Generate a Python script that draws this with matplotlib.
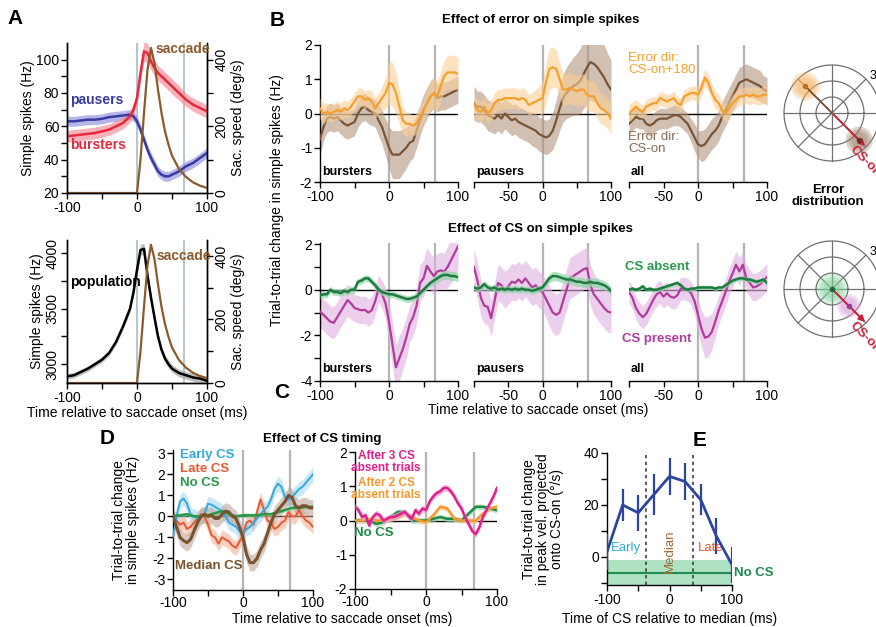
import numpy as np
import matplotlib
matplotlib.use('Agg')
import matplotlib.pyplot as plt
from matplotlib.patches import Circle

plt.rcParams['font.family'] = ['Liberation Sans', 'DejaVu Sans']
plt.rcParams['font.size'] = 10
plt.rcParams['axes.unicode_minus'] = False
plt.rcParams['axes.linewidth'] = 1.0

# ---------------- data ----------------
# panel A (firing rates, Hz) and saccade speed (deg/s)
t_a = [-100, -90, -80, -70, -60, -50, -40, -30, -20, -10, -5, 0, 5, 10, 15, 20, 25, 30, 35, 40, 45, 50, 60, 70, 80, 90, 100]
pausers = [63, 63, 63.5, 64, 64, 64.5, 65.5, 66, 66.5, 67, 66, 63, 58, 52, 46, 41, 37, 33, 31, 30, 30, 31, 33, 36, 38, 41, 44]
bursters = [54, 54.5, 55, 55.5, 56, 57, 58, 60, 62, 66, 70, 77, 92, 105, 104, 99, 95, 92, 90, 88, 86, 84, 80, 76, 73, 71, 69]
population = [2890, 2900, 2930, 2960, 3000, 3040, 3100, 3200, 3340, 3500, 3650, 3850, 4030, 4040, 3800, 3600, 3420, 3250, 3130, 3050, 3000, 2960, 2920, 2900, 2880, 2870, 2850]
t_sac = [-100, -5, 0, 5, 10, 15, 20, 25, 30, 35, 40, 45, 50, 60, 70, 80, 90, 100]
sac_speed = [0, 0, 0, 100, 240, 370, 435, 390, 310, 240, 185, 145, 112, 72, 48, 32, 22, 15]

# panels B/C, 5 ms grid (Hz change)
t5 = np.arange(-100, 101, 5)
err180_burst = [0.15, 0.0, 0.05, 0.0, 0.05, 0.1, 0.05, 0.15, 0.1, 0.2, 0.35, 0.5, 0.5, 0.4, 0.45, 0.35, 0.15, 0.3, 0.45, 0.6,
                0.9, 0.85, 0.6, 0.2, -0.2, -0.3, -0.3, -0.35, -0.3, -0.1, 0.1, 0.3, 0.5, 0.6, 0.5, 0.8, 1.1, 1.2, 1.2, 1.2, 1.15]
err180_burst_sem = [0.3, 0.3, 0.25, 0.25, 0.25, 0.25, 0.25, 0.25, 0.25, 0.25, 0.25, 0.25, 0.25, 0.25, 0.25, 0.3, 0.3, 0.3, 0.35, 0.45,
                    0.6, 0.65, 0.6, 0.5, 0.4, 0.35, 0.3, 0.3, 0.3, 0.3, 0.3, 0.35, 0.4, 0.45, 0.45, 0.45, 0.45, 0.5, 0.5, 0.5, 0.45]
erron_burst = [-0.75, -0.4, -0.15, -0.1, -0.15, -0.1, -0.2, -0.3, -0.35, -0.3, -0.25, 0.0, 0.15, 0.2, 0.1, 0.05, 0.0, -0.2, -0.4, -0.7,
               -1.0, -1.2, -1.2, -1.2, -1.1, -1.0, -0.85, -0.8, -0.5, -0.2, 0.1, 0.3, 0.5, 0.6, 0.45, 0.5, 0.5, 0.55, 0.6, 0.65, 0.7]
erron_burst_sem = [0.45, 0.4, 0.4, 0.4, 0.4, 0.4, 0.4, 0.4, 0.4, 0.4, 0.4, 0.4, 0.4, 0.4, 0.4, 0.4, 0.4, 0.45, 0.5, 0.55,
                   0.6, 0.7, 0.7, 0.7, 0.65, 0.6, 0.55, 0.5, 0.5, 0.45, 0.45, 0.45, 0.45, 0.45, 0.4, 0.4, 0.4, 0.4, 0.4, 0.4, 0.4]
err180_paus = [0.25, 0.1, 0.05, 0.2, 0.0, 0.1, 0.3, 0.4, 0.4, 0.45, 0.45, 0.45, 0.45, 0.4, 0.45, 0.4, 0.25, 0.3, 0.35, 0.4,
               0.45, 0.9, 1.3, 1.35, 1.3, 1.0, 0.7, 0.7, 0.75, 0.7, 0.65, 0.7, 0.7, 0.55, 0.5, 0.5, 0.3, 0.15, 0.1, 0.0, -0.15]
err180_paus_sem = [0.3, 0.3, 0.3, 0.3, 0.3, 0.3, 0.3, 0.3, 0.3, 0.3, 0.3, 0.3, 0.3, 0.3, 0.3, 0.3, 0.3, 0.3, 0.35, 0.4,
                   0.5, 0.6, 0.6, 0.6, 0.55, 0.5, 0.45, 0.45, 0.45, 0.45, 0.45, 0.45, 0.45, 0.45, 0.45, 0.45, 0.45, 0.45, 0.45, 0.45, 0.45]
erron_paus = [0.3, 0.2, 0.2, 0.1, -0.05, -0.1, -0.15, -0.05, -0.15, 0.0, -0.1, -0.2, -0.15, -0.25, -0.3, -0.35, -0.4, -0.45, -0.5, -0.6,
              -0.65, -0.7, -0.65, -0.5, -0.2, 0.15, 0.45, 0.6, 0.7, 0.8, 0.85, 0.95, 1.15, 1.35, 1.5, 1.45, 1.35, 1.2, 1.05, 0.85, 0.7]
erron_paus_sem = [0.5, 0.45, 0.45, 0.45, 0.45, 0.45, 0.45, 0.45, 0.45, 0.45, 0.45, 0.45, 0.45, 0.45, 0.45, 0.45, 0.45, 0.5, 0.5, 0.5,
                  0.5, 0.5, 0.5, 0.55, 0.6, 0.65, 0.7, 0.75, 0.8, 0.85, 0.9, 0.95, 1.0, 1.05, 1.1, 1.1, 1.05, 1.0, 0.95, 0.9, 0.85]
err180_all = [0.0, 0.1, 0.2, 0.1, 0.05, 0.2, 0.25, 0.3, 0.3, 0.45, 0.4, 0.35, 0.4, 0.45, 0.3, 0.25, 0.5, 0.55, 0.6, 0.6,
              0.55, 0.75, 1.05, 0.9, 0.6, 0.4, 0.3, 0.1, 0.0, 0.15, 0.3, 0.4, 0.5, 0.5, 0.55, 0.5, 0.55, 0.5, 0.5, 0.55, 0.55]
err180_all_sem = [0.25, 0.25, 0.2, 0.2, 0.2, 0.2, 0.2, 0.2, 0.2, 0.2, 0.2, 0.2, 0.2, 0.2, 0.2, 0.2, 0.2, 0.2, 0.2, 0.2,
                  0.25, 0.25, 0.25, 0.25, 0.25, 0.25, 0.25, 0.25, 0.25, 0.25, 0.25, 0.25, 0.25, 0.25, 0.25, 0.25, 0.25, 0.25, 0.25, 0.25, 0.25]
erron_all = [-0.3, -0.2, -0.1, -0.15, -0.15, -0.3, -0.35, -0.3, -0.2, -0.15, -0.15, -0.15, -0.1, -0.05, -0.05, -0.1, -0.2, -0.3, -0.5, -0.7,
             -0.9, -0.95, -0.9, -0.75, -0.6, -0.5, -0.35, -0.1, 0.1, 0.3, 0.5, 0.7, 0.9, 0.95, 1.0, 0.95, 0.9, 0.85, 0.8, 0.7, 0.65]
erron_all_sem = [0.3, 0.3, 0.3, 0.3, 0.3, 0.3, 0.3, 0.3, 0.3, 0.3, 0.3, 0.3, 0.3, 0.3, 0.3, 0.3, 0.3, 0.3, 0.35, 0.4,
                 0.4, 0.45, 0.45, 0.45, 0.45, 0.45, 0.45, 0.45, 0.45, 0.45, 0.45, 0.45, 0.45, 0.45, 0.45, 0.45, 0.45, 0.45, 0.45, 0.4, 0.4]

csabs_burst = [-0.25, -0.2, -0.2, 0.0, -0.1, -0.1, -0.15, -0.05, -0.1, 0.0, 0.0, 0.35, 0.4, 0.5, 0.5, 0.35, 0.2, 0.0, -0.1, -0.15,
               -0.2, -0.2, -0.25, -0.3, -0.35, -0.4, -0.4, -0.35, -0.3, -0.15, 0.0, 0.15, 0.3, 0.4, 0.5, 0.6, 0.65, 0.65, 0.6, 0.6, 0.55]
csabs_burst_sem = [0.15, 0.15, 0.15, 0.15, 0.15, 0.15, 0.15, 0.15, 0.15, 0.15, 0.15, 0.15, 0.15, 0.15, 0.15, 0.15, 0.15, 0.15, 0.15, 0.15,
                   0.15, 0.15, 0.15, 0.15, 0.15, 0.15, 0.15, 0.15, 0.15, 0.15, 0.15, 0.15, 0.15, 0.2, 0.2, 0.2, 0.2, 0.2, 0.2, 0.2, 0.2]
cspres_burst = [-0.95, -1.1, -1.25, -1.4, -1.45, -1.2, -0.95, -0.7, -0.45, -0.6, -0.8, -0.85, -0.9, -0.88, -1.0, -0.9, -0.5, 0.05, -0.2, -0.6,
                -1.4, -2.4, -3.4, -3.0, -2.6, -2.1, -1.5, -1.2, -0.7, 0.3, 0.5, 1.05, 0.8, 0.6, 0.8, 0.85, 0.8, 1.0, 1.3, 1.6, 1.9]
cspres_burst_sem = [0.7, 0.7, 0.7, 0.7, 0.7, 0.7, 0.7, 0.7, 0.7, 0.7, 0.6, 0.6, 0.6, 0.6, 0.6, 0.6, 0.6, 0.6, 0.6, 0.7,
                    0.9, 1.0, 1.0, 1.0, 0.9, 0.9, 0.8, 0.8, 0.8, 0.8, 0.8, 0.8, 0.8, 0.8, 0.8, 0.8, 0.8, 0.9, 1.0, 1.0, 1.0]
csabs_paus = [0.1, 0.05, 0.1, 0.25, 0.1, 0.05, 0.1, 0.0, 0.05, 0.0, 0.05, 0.0, 0.05, 0.0, 0.05, 0.0, 0.0, -0.05, 0.0, 0.05,
              0.1, 0.3, 0.5, 0.6, 0.6, 0.55, 0.5, 0.45, 0.45, 0.4, 0.35, 0.35, 0.3, 0.3, 0.35, 0.3, 0.3, 0.25, 0.2, 0.1, -0.05]
csabs_paus_sem = [0.15, 0.15, 0.15, 0.15, 0.15, 0.15, 0.15, 0.15, 0.15, 0.15, 0.15, 0.15, 0.15, 0.15, 0.15, 0.15, 0.15, 0.15, 0.15, 0.15,
                  0.15, 0.2, 0.2, 0.2, 0.2, 0.2, 0.2, 0.2, 0.2, 0.2, 0.2, 0.2, 0.2, 0.2, 0.2, 0.2, 0.2, 0.2, 0.2, 0.2, 0.2]
cspres_paus = [1.0, 0.4, -0.35, -0.7, -0.75, -1.25, -0.5, 0.3, 0.2, 0.0, 0.15, 0.35, 0.3, 0.45, 0.3, 0.5, 0.3, 0.1, 0.2, 0.0,
               -0.1, -0.4, -0.7, -1.0, -1.1, -1.0, -0.5, 0.0, 0.5, 0.6, 0.7, 0.8, 0.9, 0.95, 0.2, -0.2, -0.4, -0.6, -0.8, -0.95, -1.0]
cspres_paus_sem = [0.8, 0.8, 0.8, 0.8, 0.8, 0.8, 0.8, 0.8, 0.8, 0.8, 0.8, 0.8, 0.8, 0.8, 0.8, 0.8, 0.8, 0.8, 0.8, 0.8,
                   0.8, 0.8, 0.9, 0.9, 0.9, 0.9, 0.9, 0.9, 0.9, 0.9, 0.9, 0.9, 0.9, 0.9, 0.9, 0.9, 0.9, 0.9, 0.9, 0.9, 0.9]
csabs_all = [0.0, 0.05, 0.0, 0.05, 0.15, 0.0, 0.05, 0.0, 0.0, 0.05, 0.1, 0.15, 0.2, 0.25, 0.3, 0.2, 0.05, 0.0, 0.05, 0.05,
             0.1, 0.1, 0.1, 0.1, 0.1, 0.05, 0.1, 0.1, 0.2, 0.3, 0.4, 0.45, 0.5, 0.5, 0.45, 0.45, 0.4, 0.35, 0.4, 0.45, 0.3]
csabs_all_sem = [0.1, 0.1, 0.1, 0.1, 0.1, 0.1, 0.1, 0.1, 0.1, 0.1, 0.1, 0.1, 0.1, 0.1, 0.1, 0.1, 0.1, 0.1, 0.1, 0.1,
                 0.1, 0.1, 0.1, 0.1, 0.1, 0.1, 0.1, 0.1, 0.1, 0.1, 0.1, 0.1, 0.1, 0.1, 0.1, 0.1, 0.1, 0.1, 0.1, 0.1, 0.1]
cspres_all = [-0.1, -0.35, -0.8, -1.05, -1.2, -1.05, -0.75, -0.45, -0.2, -0.1, -0.3, -0.15, -0.3, -0.35, -0.25, 0.05, 0.05, 0.0, -0.15, -0.5,
              -1.1, -1.7, -2.1, -2.05, -1.85, -1.4, -0.9, -0.5, -0.1, 0.35, 0.7, 1.1, 0.8, 1.1, 0.5, 0.3, 0.1, 0.15, 0.25, 0.4, 0.55]
cspres_all_sem = [0.5, 0.5, 0.5, 0.5, 0.5, 0.5, 0.5, 0.5, 0.5, 0.5, 0.5, 0.5, 0.5, 0.5, 0.5, 0.5, 0.5, 0.5, 0.5, 0.6,
                  0.7, 0.8, 0.9, 0.9, 0.8, 0.7, 0.6, 0.6, 0.6, 0.6, 0.6, 0.6, 0.6, 0.6, 0.6, 0.6, 0.6, 0.6, 0.6, 0.6, 0.6]

# panel D
early_cs = [-1.0, 0.0, 0.7, 0.85, 0.6, 0.1, 0.0, -0.1, 0.0, 0.1, 0.6, 0.55, 0.45, 0.35, 0.25, 0.0, -0.3, -0.4, -0.5, -0.7,
            -0.8, -0.6, -0.5, -0.3, -0.1, 0.1, 0.3, 0.45, 0.8, 1.3, 1.55, 1.4, 0.9, 0.8, 0.9, 1.1, 1.3, 1.4, 1.6, 1.8, 2.0]
late_cs = [0.0, -0.2, -0.4, -0.3, -0.6, -0.5, -0.3, -0.1, 0.1, 0.0, -0.4, -0.9, -1.0, -1.3, -1.0, -1.1, -1.2, -1.4, -1.5, -1.2,
           -0.9, -0.3, -0.2, -0.4, 0.2, 0.8, 0.3, -0.2, -0.3, -0.6, -0.5, -0.3, -0.2, 0.2, 0.0, 0.0, 0.3, 0.0, -0.2, -0.3, -0.5]
median_cs = [0.0, -0.5, -1.0, -1.15, -1.25, -1.1, -0.7, -0.3, 0.0, 0.1, 0.0, 0.05, -0.1, -0.1, 0.1, 0.25, 0.2, 0.0, -0.1, -0.5,
             -1.0, -1.8, -2.2, -2.2, -2.0, -1.6, -1.3, -0.8, -0.3, 0.1, 0.3, 0.5, 0.7, 1.0, 0.9, 0.5, 0.4, 0.5, 0.5, 0.4, 0.4]
after3_cs = [0.4, 0.3, 0.1, 0.15, -0.15, 0.1, 0.2, 0.15, 0.0, 0.05, 0.1, 0.1, 0.15, 0.2, 0.25, 0.15, 0.05, 0.3, 0.2, 0.35,
             0.3, 0.55, 0.7, 0.8, 0.85, 0.95, 0.95, 0.85, 0.7, 0.5, 0.35, 0.1, -0.1, -0.3, -0.4, -0.2, 0.1, 0.3, 0.5, 0.7, 0.95]
t10 = np.arange(-100, 101, 10)
no_cs_left = [0.0, 0.05, 0.1, 0.0, 0.0, 0.05, 0.15, 0.25, 0.1, 0.0, 0.05, 0.05, 0.05, 0.1, 0.1, 0.2, 0.3, 0.4, 0.4, 0.45, 0.45]
after2_cs = [0.0, 0.0, 0.05, 0.0, 0.0, 0.05, 0.1, 0.2, 0.1, 0.0, -0.05, 0.15, 0.4, 0.35, 0.05, 0.0, 0.0, 0.0, 0.2, 0.35, 0.4]
no_cs_right = [0.0, 0.0, 0.0, -0.1, -0.05, 0.1, 0.25, 0.25, 0.0, 0.0, 0.0, 0.05, 0.1, 0.05, 0.05, 0.0, 0.2, 0.4, 0.4, 0.35, 0.3]

# panel E
e_time = [-100, -75, -50, -25, 0, 25, 50, 75, 100]
e_change = [2, 20, 17, 24, 31, 29, 22, 8, -3]
e_sem = [7, 6, 7, 8, 7, 7, 6, 7, 7]
e_nocs_mean = -6
e_nocs_sem = 5

# polar insets: (angle deg, radius) of error / CS distributions
err_dirs = {'CS-on+180': (135, 2.35), 'CS-on': (-45, 2.4)}
cs_dirs = {'absent': (0, 0.0), 'present': (-45, 1.5)}

# ---------------- colours ----------------
ORANGE, ORANGE_F = '#f5a02e', '#fbcf95'
BROWN, BROWN_F = '#7a5535', '#b39580'
GREEN, GREEN_F = '#1f7a40', '#8fd6a8'
PURPLE, PURPLE_F = '#b03c9c', '#e0b0e0'
GREY_V = '#b4b4b4'

W, H = 876, 627
fig = plt.figure(figsize=(8.76, 6.27), dpi=100)


def px_axes(x0, y0, x1, y1):
    return fig.add_axes([x0 / W, 1 - y1 / H, (x1 - x0) / W, (y1 - y0) / H])


def ftext(x, y, s, **kw):
    fig.text(x / W, 1 - y / H, s, **kw)


def tidy(ax):
    ax.spines['top'].set_visible(False)
    ax.spines['right'].set_visible(False)
    ax.tick_params(which='both', direction='out', length=4, width=1, pad=1.5)


def band(ax, t, m, s, lc, fc, lw=1.6, alpha=0.65, z=2):
    m, s = np.asarray(m, float), np.asarray(s, float)
    ax.fill_between(t, m - s, m + s, color=fc, alpha=alpha, lw=0, zorder=z)
    ax.plot(t, m, color=lc, lw=lw, zorder=z + 1)


# ---------------- panel A ----------------
def a_axes(y0, y1, ylim):
    ax = px_axes(67, y0, 207, y1)
    ax.spines['top'].set_visible(False)
    ax.tick_params(which='both', direction='out', length=4, width=1, pad=1.5)
    ax.set_xlim(-100, 100)
    ax.set_ylim(ylim)
    ax.set_xticks([-100, 0, 100])
    ax.set_xticks([-50, 50], minor=True)
    for v in (0, 67):
        ax.axvline(v, color='#b8c6d0', lw=1.5, zorder=0)
    ax2 = ax.twinx()
    ax2.spines['top'].set_visible(False)
    ax2.set_ylim(0, 450)
    ax2.set_yticks([0, 200, 400])
    ax2.set_yticks([100, 300], minor=True)
    ax2.tick_params(which='both', direction='out', length=4, width=1, pad=1.5)
    for lab in ax2.get_yticklabels():
        lab.set_rotation(90)
        lab.set_va('center')
    ax2.set_ylabel('Sac. speed (deg/s)', rotation=90, labelpad=2)
    ax2.plot(t_sac, sac_speed, color='#8b5a2b', lw=1.6)
    return ax


ax = a_axes(43, 193, (20, 110))
band(ax, t_a, pausers, [3] * len(t_a), '#3a3aa0', '#8e90e0', lw=1.8)
band(ax, t_a, bursters, [3.5, 3.5, 3.5, 3.5, 3.5, 3.5, 3.5, 3.5, 3.5, 3.5, 4, 4, 5, 6, 6, 5, 5, 4.5, 4.5, 4.5, 4.5, 4.5, 4.5, 4, 4, 4, 4],
     '#e8283c', '#f48a94', lw=1.8)
ax.set_yticks([20, 40, 60, 80, 100])
ax.set_yticks([30, 50, 70, 90], minor=True)
ax.set_ylabel('Simple spikes (Hz)', labelpad=1)
ftext(70, 100, 'pausers', color='#3a3aa0', fontsize=10, fontweight='bold', va='center')
ftext(70, 145, 'bursters', color='#e8283c', fontsize=10, fontweight='bold', va='center')
ftext(156, 49, 'saccade', color='#8b5a2b', fontsize=10, fontweight='bold', va='center')

ax = a_axes(240, 383, (2830, 4120))
band(ax, t_a, population, [25, 25, 25, 25, 25, 25, 25, 25, 30, 35, 40, 45, 50, 50, 45, 40, 40, 35, 35, 35, 35, 35, 35, 35, 35, 35, 35],
     'black', '#a0a0a0', lw=1.8)
ax.set_yticks([3000, 3500, 4000])
ax.set_yticks([3250, 3750], minor=True)
for lab in ax.get_yticklabels():
    lab.set_rotation(90)
    lab.set_va('center')
ax.set_ylabel('Simple spikes (Hz)', labelpad=1)
ax.set_xlabel('Time relative to saccade onset (ms)', labelpad=1)
ftext(70, 282, 'population', color='black', fontsize=10, fontweight='bold', va='center')
ftext(157, 256, 'saccade', color='#8b5a2b', fontsize=10, fontweight='bold', va='center')


# ---------------- panels B / C ----------------
def trial_axes(x0, x1, y0, y1, ylim, first):
    ax = px_axes(x0, y0, x1, y1)
    tidy(ax)
    ax.set_xlim(-100, 100)
    ax.set_ylim(ylim)
    ax.axhline(0, color='black', lw=1, zorder=1)
    for v in (0, 67):
        ax.axvline(v, color=GREY_V, lw=1.6, zorder=0)
    ax.set_xticks([-100, -50, 0, 50, 100])
    if first:
        ax.set_xticklabels(['-100', '', '0', '', '100'])
    else:
        ax.set_xticklabels(['', '-50', '0', '', '100'])
        ax.spines['left'].set_visible(False)
        ax.set_yticks([])
    return ax


cols = [(320, 458), (474, 611), (629, 767)]
names = ['bursters', 'pausers', 'all']
err_sets = [(err180_burst, err180_burst_sem, erron_burst, erron_burst_sem),
            (err180_paus, err180_paus_sem, erron_paus, erron_paus_sem),
            (err180_all, err180_all_sem, erron_all, erron_all_sem)]
for i, ((x0, x1), nm, (o, os_, b, bs)) in enumerate(zip(cols, names, err_sets)):
    ax = trial_axes(x0, x1, 45, 182, (-2, 2), i == 0)
    if i == 0:
        ax.set_yticks([-2, -1, 0, 1, 2])
    band(ax, t5, b, bs, BROWN, BROWN_F, alpha=0.6)
    band(ax, t5, o, os_, ORANGE, ORANGE_F, alpha=0.6, z=4)
    ftext(x0 + 2, 172, nm, fontsize=9, fontweight='bold', va='center')

cs_sets = [(csabs_burst, csabs_burst_sem, cspres_burst, cspres_burst_sem),
           (csabs_paus, csabs_paus_sem, cspres_paus, cspres_paus_sem),
           (csabs_all, csabs_all_sem, cspres_all, cspres_all_sem)]
for i, ((x0, x1), nm, (g, gs, p, ps)) in enumerate(zip(cols, names, cs_sets)):
    ax = trial_axes(x0, x1, 243, 381, (-4, 2.05), i == 0)
    if i == 0:
        ax.set_yticks([-4, -2, 0, 2])
        ax.set_yticks([-3, -1, 1], minor=True)
    band(ax, t5, p, ps, PURPLE, PURPLE_F, alpha=0.6)
    band(ax, t5, g, gs, GREEN, GREEN_F, lw=1.8, alpha=0.7, z=4)
    ftext(x0 + 2, 369, nm, fontsize=9, fontweight='bold', va='center')

ftext(541, 20, 'Effect of error on simple spikes', fontsize=9.5, fontweight='bold', ha='center', va='center')
ftext(540, 229, 'Effect of CS on simple spikes', fontsize=9.5, fontweight='bold', ha='center', va='center')
ftext(277, 200, 'Trial-to-trial change in simple spikes (Hz)', rotation=90, ha='center', va='center', fontsize=10)
ftext(538, 410, 'Time relative to saccade onset (ms)', ha='center', va='center', fontsize=10)
ftext(628, 52, 'Error dir:\nCS-on+180', color=ORANGE, fontsize=9.5, va='top', linespacing=1.05)
ftext(628, 131, 'Error dir:\nCS-on', color='#8a6a55', fontsize=9.5, va='top', linespacing=1.05)
ftext(625, 267, 'CS absent', color='#2a9a50', fontsize=9.5, fontweight='bold', va='center')
ftext(622, 339, 'CS present', color=PURPLE, fontsize=9.5, fontweight='bold', va='center')


# ---------------- polar insets ----------------
def polar_inset(cx, cy):
    ax = px_axes(cx - 55, cy - 55, cx + 55, cy + 55)
    lim = 55 / 48 * 3
    ax.set_xlim(-lim, lim)
    ax.set_ylim(-lim, lim)
    ax.set_aspect('equal')
    ax.axis('off')
    th = np.linspace(0, 2 * np.pi, 200)
    for r in (1, 2, 3):
        ax.plot(r * np.cos(th), r * np.sin(th), color='#707070', lw=0.9, zorder=1)
    for a in np.deg2rad(np.arange(0, 360, 45)):
        ax.plot([0, 3 * np.cos(a)], [0, 3 * np.sin(a)], color='#707070', lw=0.9, zorder=1)
    # radial scale label, cut by the right edge like in the original
    ax.text(2.35, 2.3, '30', fontsize=9, ha='left', va='center', clip_on=False)
    a = np.deg2rad(-45)
    ax.annotate('', xy=(3.1 * np.cos(a), 3.1 * np.sin(a)), xytext=(0, 0),
                arrowprops=dict(arrowstyle='-|>', color='#c8203a', lw=1.4, mutation_scale=9), zorder=5)
    ax.text(1.25, -2.2, 'CS-on', color='#d0203a', fontsize=9.5, fontweight='bold', rotation=-45,
            rotation_mode='anchor', ha='left', va='center', clip_on=False)
    return ax


def blob(ax, ang, r, size, color, dot):
    x, y = r * np.cos(np.deg2rad(ang)), r * np.sin(np.deg2rad(ang))
    for k in (1.0, 0.8, 0.6):
        ax.add_patch(Circle((x, y), size * k, color=color, alpha=0.3, lw=0, zorder=2))
    ax.plot(x, y, 'o', ms=3, color=dot, zorder=6)
    return x, y


ax = polar_inset(832, 113)
ox, oy = blob(ax, *err_dirs['CS-on+180'], 0.9, '#f5b060', '#c07020')
bx, by = blob(ax, *err_dirs['CS-on'], 0.85, '#9a7a65', '#5a3a25')
ax.plot([ox, 0], [oy, 0], color='#7a4a30', lw=1.2, zorder=4)
ftext(828, 196, 'Error\ndistribution', fontsize=9.5, fontweight='bold', ha='center', va='center', linespacing=1.1)

ax = polar_inset(832, 289)
blob(ax, *cs_dirs['present'], 0.75, '#d9a0d9', '#a03c90')
blob(ax, *cs_dirs['absent'], 0.95, '#7fd09a', '#1f6a3a')


# ---------------- panel D ----------------
ax = px_axes(173, 450, 313, 590)
tidy(ax)
ax.tick_params(axis='x', pad=0.5)
ax.set_xlim(-100, 100)
ax.set_ylim(-3.5, 3.15)
ax.axhline(0, color='black', lw=1, zorder=1)
for v in (0, 67):
    ax.axvline(v, color=GREY_V, lw=1.6, zorder=0)
ax.set_xticks([-100, 0, 100])
ax.set_xticks([-50, 50], minor=True)
ax.set_yticks([-3, -2, -1, 0, 1, 2, 3])
band(ax, t5, late_cs, [0.35] * 41, '#e65a32', '#f5a890', lw=1.4, alpha=0.55)
band(ax, t5, early_cs, [0.35] * 41, '#35a8dc', '#9fd6ef', lw=1.4, alpha=0.55)
band(ax, t10, no_cs_left, [0.1] * 21, '#2a9a4a', '#90d6a8', lw=1.8, alpha=0.6)
band(ax, t5, median_cs, [0.4] * 41, '#7a5230', '#b8a090', lw=2.2, alpha=0.55)
ax.set_ylabel('Trial-to-trial change\nin simple spikes (Hz)', labelpad=9, linespacing=1.0)
ftext(180, 455, 'Early CS', color='#35a8dc', fontsize=9.5, fontweight='bold', va='center')
ftext(180, 469, 'Late CS', color='#e65a32', fontsize=9.5, fontweight='bold', va='center')
ftext(180, 483, 'No CS', color='#2a9a4a', fontsize=9.5, fontweight='bold', va='center')
ftext(175, 566, 'Median CS', color='#7a5230', fontsize=9.5, fontweight='bold', va='center')

ax = px_axes(355, 452, 497, 589)
tidy(ax)
ax.tick_params(axis='x', pad=0.5)
ax.set_xlim(-100, 100)
ax.set_ylim(-2, 2)
ax.axhline(0, color='black', lw=1, zorder=1)
for v in (0, 67):
    ax.axvline(v, color=GREY_V, lw=1.6, zorder=0)
ax.set_xticks([-100, 0, 100])
ax.set_xticks([-50, 50], minor=True)
ax.set_yticks([-2, -1, 0, 1, 2])
band(ax, t10, no_cs_right, [0.08] * 21, '#1f8a45', '#90d6a8', lw=1.8, alpha=0.6)
band(ax, t10, after2_cs, [0.08] * 21, '#f59a2e', '#fbcf95', lw=1.8, alpha=0.7)
band(ax, t5, after3_cs, [0.1] * 41, '#e0208c', '#f0a0cc', lw=1.8, alpha=0.7, z=5)
ftext(386, 462, 'After 3 CS\nabsent trials', color='#e0208c', fontsize=8.5, fontweight='bold', ha='center', va='center', linespacing=1.0)
ftext(386, 489, 'After 2 CS\nabsent trials', color='#f59a2e', fontsize=8.5, fontweight='bold', ha='center', va='center', linespacing=1.0)
ftext(354, 533, 'No CS', color='#1f8a45', fontsize=9.5, fontweight='bold', va='center')

ftext(322, 439, 'Effect of CS timing', fontsize=9.5, fontweight='bold', ha='center', va='center')
ftext(342, 619, 'Time relative to saccade onset (ms)', ha='center', va='center', fontsize=10)

# ---------------- panel E ----------------
ax = px_axes(607, 453, 732, 585)
tidy(ax)
ax.set_xlim(-100, 100)
ax.set_ylim(-10.8, 40)
ax.fill_between([-100, 100], e_nocs_mean - e_nocs_sem, e_nocs_mean + e_nocs_sem, color='#9adbb5', alpha=0.8, lw=0)
ax.plot([-100, 100], [e_nocs_mean, e_nocs_mean], color='#1e8c4e', lw=1.5)
for v in (-37, 37):
    ax.axvline(v, color='#404040', lw=1.2, ls=(0, (2, 2)), zorder=1)
ax.errorbar(e_time, e_change, yerr=e_sem, color='#2d45a0', lw=2, elinewidth=1.6, capsize=0, zorder=3)
ax.set_xticks([-100, 0, 100])
ax.set_xticks([-50, 50], minor=True)
ax.set_yticks([0, 20, 40])
ax.set_yticks([-10, 10, 30], minor=True)
ax.set_xlabel('Time of CS relative to median (ms)', labelpad=4)
ax.set_ylabel('Trial-to-trial change\nin peak vel. projected\nonto CS-on (°/s)', labelpad=14, linespacing=1.0)
ax.text(-94, 3.5, 'Early', color='#35a8dc', fontsize=9.5, va='center')
ax.text(0, 2, 'Median', color='#a06a30', fontsize=9.5, rotation=90, ha='center', va='center')
ax.text(45, 3.5, 'Late', color='#e65a32', fontsize=9.5, va='center')
ax.text(104, e_nocs_mean, 'No CS', color='#1e8c4e', fontsize=9.5, fontweight='bold', va='center', clip_on=False)

# ---------------- panel letters ----------------
for letter, x, y in [('A', 15, 18), ('B', 277, 20), ('C', 282, 393), ('D', 107, 438), ('E', 700, 440)]:
    ftext(x, y, letter, fontsize=15, fontweight='bold', ha='center', va='center')

fig.savefig('out.png', dpi=100)
